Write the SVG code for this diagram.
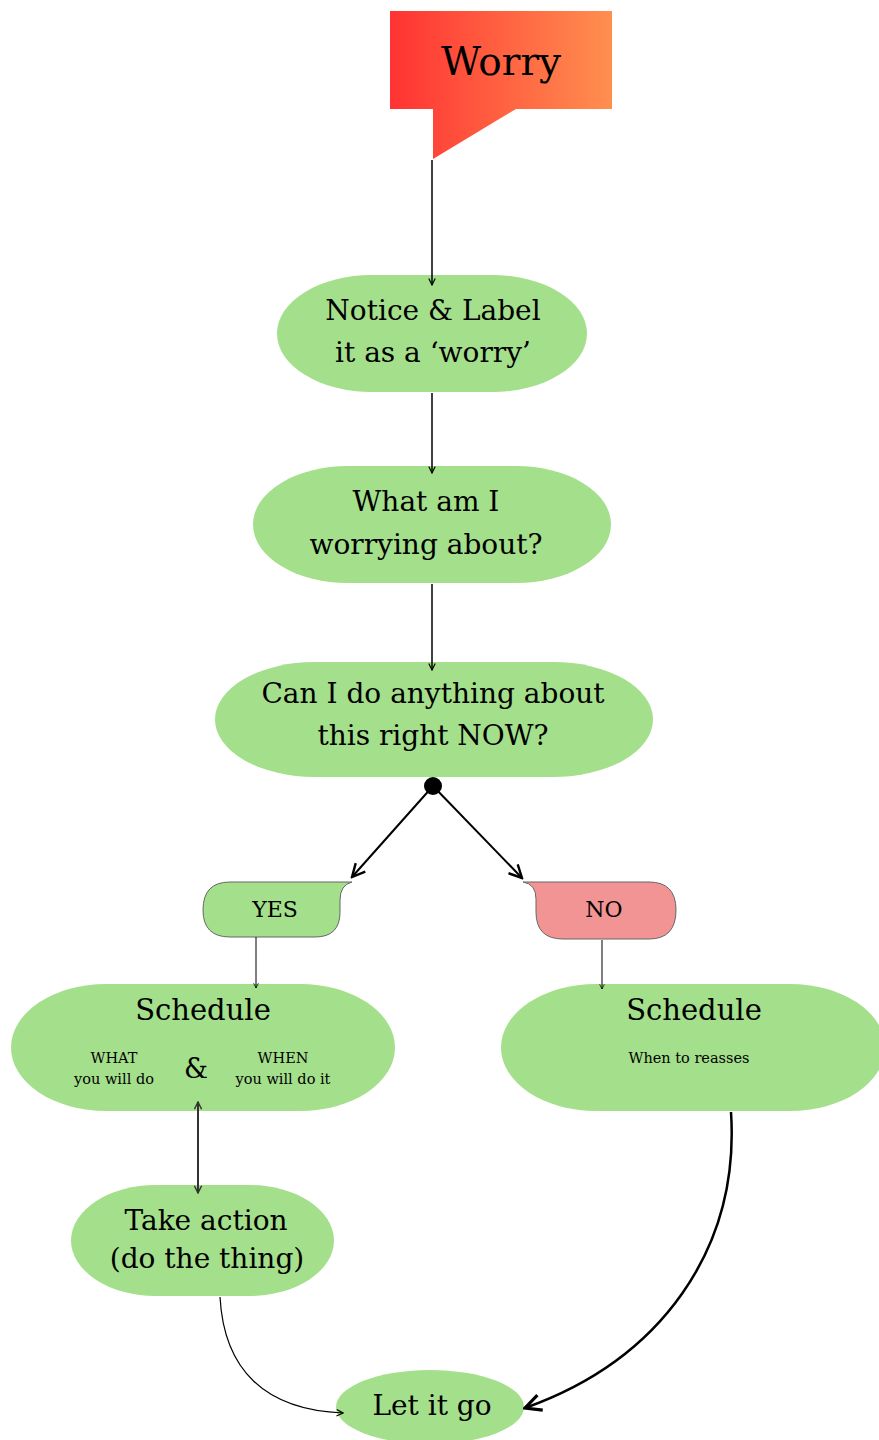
<svg xmlns="http://www.w3.org/2000/svg" width="879" height="1440" viewBox="0 0 879 1440">
<defs>
<linearGradient id="wg" x1="0" y1="0" x2="1" y2="0">
<stop offset="0" stop-color="#ff3333"/>
<stop offset="1" stop-color="#ff8f4f"/>
</linearGradient>
<marker id="ah" viewBox="0 0 10 10" refX="9" refY="5" markerWidth="8" markerHeight="8" markerUnits="userSpaceOnUse" orient="auto">
<path d="M1 1 L9 5 L1 9" fill="none" stroke="#000" stroke-width="1.5"/>
</marker>
<marker id="ahs" viewBox="0 0 10 10" refX="9" refY="5" markerWidth="6" markerHeight="6" markerUnits="userSpaceOnUse" orient="auto">
<path d="M1 1 L9 5 L1 9" fill="none" stroke="#000" stroke-width="1.2"/>
</marker>
<marker id="ahl" viewBox="0 0 10 10" refX="9" refY="5" markerWidth="16" markerHeight="16" markerUnits="userSpaceOnUse" orient="auto">
<path d="M1 1 L9 5 L1 9" fill="none" stroke="#000" stroke-width="1.5"/>
</marker>
<marker id="ahx" viewBox="0 0 10 10" refX="9" refY="5" markerWidth="20" markerHeight="20" markerUnits="userSpaceOnUse" orient="auto">
<path d="M1 1 L9 5 L1 9" fill="none" stroke="#000" stroke-width="1.6"/>
</marker>
<marker id="ahd" viewBox="0 0 10 10" refX="9" refY="5" markerWidth="9" markerHeight="9" markerUnits="userSpaceOnUse" orient="auto-start-reverse">
<path d="M1 1 L9 5 L1 9" fill="none" stroke="#333" stroke-width="1.6"/>
</marker>
</defs>
<style>
.n{fill:#a4df8b}
.t{font-family:"DejaVu Serif","Liberation Serif",serif;fill:#000;text-anchor:middle}
.big{font-size:28px}
.sm{font-size:14.5px}
.c{fill:none;stroke:#000}
</style>

<g id="worry">
<path d="M390 11 H612 V109 H516 L433 159 V109 H390 Z" fill="url(#wg)"/>
<text class="t" x="501" y="75" font-size="39">Worry</text>
</g>

<g id="notice">
<rect class="n" x="277" y="275" width="310" height="117" rx="95" ry="58.5"/>
<text class="t big" x="433" y="320">Notice &amp; Label</text>
<text class="t big" x="433" y="362">it as a ‘worry’</text>
</g>

<g id="what">
<rect class="n" x="253" y="466" width="358" height="117" rx="95" ry="58.5"/>
<text class="t big" x="426" y="511">What am I</text>
<text class="t big" x="426" y="554">worrying about?</text>
</g>

<g id="can">
<rect class="n" x="215" y="662" width="438" height="115" rx="100" ry="57.5"/>
<text class="t big" x="433" y="703">Can I do anything about</text>
<text class="t big" x="433" y="745">this right NOW?</text>
</g>

<g id="yes">
<path d="M230 882 H352 Q340 885 340 900 V912 Q340 937 315 937 H230 Q203 937 203 910 Q203 882 230 882 Z" fill="#a4df8b" stroke="#666" stroke-width="1"/>
<text class="t" x="275" y="917" font-size="22">YES</text>
</g>

<g id="no">
<path d="M523 882 H649 Q676 882 676 910 Q676 939 649 939 H563 Q536 939 536 912 V899 Q536 884 523 882 Z" fill="#f29494" stroke="#666" stroke-width="1"/>
<text class="t" x="604" y="917" font-size="22">NO</text>
</g>

<g id="schedule-yes">
<rect class="n" x="11" y="984" width="384" height="127" rx="95" ry="63.5"/>
<text class="t" x="203" y="1020" font-size="29">Schedule</text>
<text class="t sm" x="114" y="1063">WHAT</text>
<text class="t sm" x="114" y="1084">you will do</text>
<text class="t" x="196" y="1078" font-size="27">&amp;</text>
<text class="t sm" x="283" y="1063">WHEN</text>
<text class="t sm" x="283" y="1084">you will do it</text>
</g>

<g id="schedule-no">
<rect class="n" x="501" y="984" width="384" height="127" rx="95" ry="63.5"/>
<text class="t" x="694" y="1020" font-size="29">Schedule</text>
<text class="t sm" x="689" y="1063">When to reasses</text>
</g>

<g id="take">
<rect class="n" x="71" y="1185" width="263" height="111" rx="85" ry="55.5"/>
<text class="t big" x="206" y="1230">Take action</text>
<text class="t big" x="207" y="1268">(do the thing)</text>
</g>

<g id="letgo">
<ellipse class="n" cx="430" cy="1407" rx="94" ry="37"/>
<text class="t" x="432" y="1415" font-size="28">Let it go</text>
</g>

<g id="connectors">
<line class="c" x1="432" y1="160" x2="432" y2="285" stroke-width="1.5" marker-end="url(#ah)"/>
<line class="c" x1="432" y1="393" x2="432" y2="473" stroke-width="1.5" marker-end="url(#ah)"/>
<line class="c" x1="432" y1="584" x2="432" y2="670" stroke-width="1.5" marker-end="url(#ah)"/>
<circle cx="433" cy="786" r="9" fill="#000"/>
<line class="c" x1="433" y1="786" x2="352" y2="877" stroke-width="2" marker-end="url(#ahl)"/>
<line class="c" x1="433" y1="786" x2="522" y2="878" stroke-width="2" marker-end="url(#ahl)"/>
<line class="c" x1="256" y1="937" x2="256" y2="988" stroke-width="1" marker-end="url(#ahs)"/>
<line class="c" x1="602" y1="940" x2="602" y2="989" stroke-width="1" marker-end="url(#ahs)"/>
<line x1="198" y1="1102" x2="198" y2="1193" stroke="#333" stroke-width="2" marker-start="url(#ahd)" marker-end="url(#ahd)"/>
<path class="c" d="M220 1297 C224 1370 265 1410 343 1413" stroke-width="1.2" marker-end="url(#ah)"/>
<path class="c" d="M731 1112 C740 1250 660 1360 525 1408" stroke-width="2.5" marker-end="url(#ahx)"/>
</g>
</svg>
